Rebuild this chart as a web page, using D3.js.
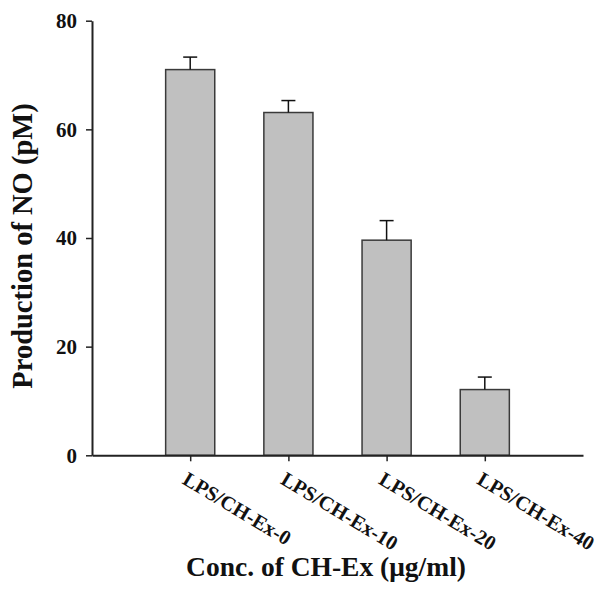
<!DOCTYPE html>
<html>
<head>
<meta charset="utf-8">
<script src="https://cdn.jsdelivr.net/npm/d3@7"></script>
<style>
  html, body { margin: 0; padding: 0; background: #fff; }
  svg { display: block; font-family: "Liberation Serif", "Times New Roman", serif; font-weight: bold; }
</style>
</head>
<body>
<svg id="chart"></svg>
<script>
// data
const groups = ["LPS/CH-Ex-0", "LPS/CH-Ex-10", "LPS/CH-Ex-20", "LPS/CH-Ex-40"];
const means = [71.0, 63.1, 39.6, 12.1];
const errors = [2.3, 2.2, 3.6, 2.3];
const yTicks = [0, 20, 40, 60, 80];

const width = 596;
const height = 591;

const svg = d3.select("#chart")
  .attr("width", width)
  .attr("height", height);

// positions 1..4 on a 0..5 axis
const x = d3.scaleLinear().domain([0, 5]).range([92, 583]);
const y = d3.scaleLinear().domain([0, 80]).range([455.3, 20.7]);
const barW = x(0.5) - x(0);

// bars
svg.append("g")
  .selectAll("rect")
  .data(means)
  .join("rect")
  .attr("x", (d, i) => x(i + 1) - barW / 2)
  .attr("y", d => y(d))
  .attr("width", barW)
  .attr("height", d => y(0) - y(d))
  .attr("fill", "#c0c0c0")
  .attr("stroke", "#3a3a3a")
  .attr("stroke-width", 1.5);

// upper error bars
const err = svg.append("g")
  .attr("stroke", "#111")
  .attr("stroke-width", 1.5);

err.selectAll("line.v")
  .data(means)
  .join("line")
  .attr("class", "v")
  .attr("x1", (d, i) => x(i + 1))
  .attr("x2", (d, i) => x(i + 1))
  .attr("y1", d => y(d))
  .attr("y2", (d, i) => y(d + errors[i]));

err.selectAll("line.cap")
  .data(means)
  .join("line")
  .attr("class", "cap")
  .attr("x1", (d, i) => x(i + 1) - 7)
  .attr("x2", (d, i) => x(i + 1) + 7)
  .attr("y1", (d, i) => y(d + errors[i]))
  .attr("y2", (d, i) => y(d + errors[i]));

// y axis
const yAxis = svg.append("g")
  .attr("transform", `translate(${x(0)},0)`)
  .call(d3.axisLeft(y).tickValues(yTicks).tickSize(6).tickPadding(9).tickSizeOuter(0));
yAxis.select(".domain").attr("stroke", "#222").attr("stroke-width", 2);
yAxis.selectAll(".tick line").attr("stroke", "#222").attr("stroke-width", 1.5);
yAxis.selectAll(".tick text")
  .attr("fill", "#111")
  .style("font-family", "'Liberation Serif', 'Times New Roman', serif")
  .style("font-weight", "bold")
  .style("font-size", "21px");

// x axis
const xAxis = svg.append("g")
  .attr("transform", `translate(0,${y(0)})`)
  .call(d3.axisBottom(x).tickValues([1, 2, 3, 4]).tickSize(6).tickSizeOuter(0).tickFormat(""));
xAxis.select(".domain").attr("stroke", "#222").attr("stroke-width", 2);
xAxis.selectAll(".tick line").attr("stroke", "#222").attr("stroke-width", 1.5);

// rotated category labels (the last one runs off the right edge, as in the original)
svg.append("g")
  .selectAll("text")
  .data(groups)
  .join("text")
  .attr("transform", (d, i) => `translate(${x(i + 1) - 9},483) rotate(31)`)
  .attr("text-anchor", "start")
  .attr("font-size", 20.5)
  .attr("fill", "#111")
  .text(d => d);

// axis titles
svg.append("text")
  .attr("x", 326)
  .attr("y", 576)
  .attr("text-anchor", "middle")
  .attr("font-size", 27.5)
  .attr("fill", "#111")
  .text("Conc. of CH-Ex (μg/ml)");

svg.append("text")
  .attr("transform", "translate(32,246) rotate(-90)")
  .attr("text-anchor", "middle")
  .attr("font-size", 28.5)
  .attr("fill", "#111")
  .text("Production of NO (pM)");
</script>
</body>
</html>
